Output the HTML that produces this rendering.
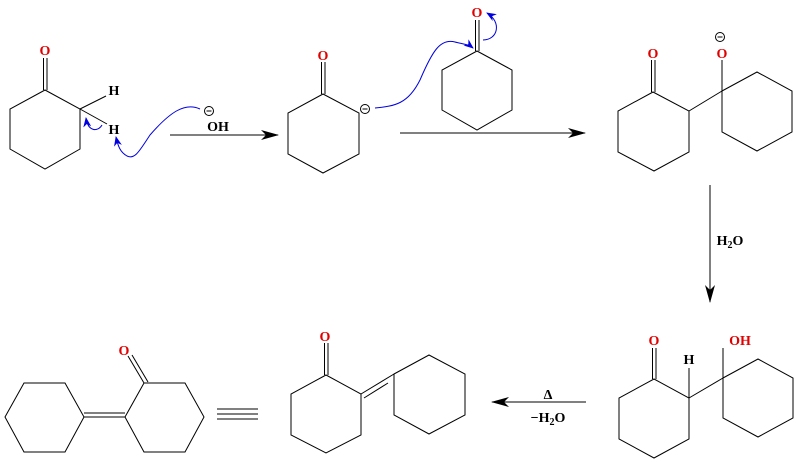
<!DOCTYPE html>
<html><head><meta charset="utf-8"><style>
html,body{margin:0;padding:0;background:#fff}
svg{display:block}
text{font-family:"Liberation Serif",serif;font-weight:bold;font-size:14px}
.o{fill:#e00000}
</style></head><body>
<svg width="796" height="462" viewBox="0 0 796 462" xmlns="http://www.w3.org/2000/svg">
<defs>
<marker id="ab" markerWidth="10" markerHeight="8" refX="9" refY="4" orient="auto" markerUnits="userSpaceOnUse"><path d="M0,0 L10,4 L0,8 L3,4 Z" fill="#0000e0"/></marker>
<marker id="ak" markerWidth="18" markerHeight="10" refX="17" refY="5" orient="auto" markerUnits="userSpaceOnUse"><path d="M0,0 L18,5 L0,10 L5,5 Z" fill="#000"/></marker>
</defs>
<g stroke="#000" stroke-width="1" fill="none">
<!-- mol 1 -->
<polygon points="45,90 80,109 80,149 45,169 10,149 10,109"/>
<line x1="43.5" y1="90" x2="43.5" y2="58"/><line x1="47" y1="90" x2="47" y2="58"/>
<line x1="80" y1="109" x2="106" y2="96"/>
<line x1="80" y1="109" x2="107" y2="124"/>
<line x1="170" y1="135" x2="278" y2="135" marker-end="url(#ak)"/>
<!-- mol 2 -->
<polygon points="323,94 359,113 359,154 323,173 288,154 288,113"/>
<line x1="321.5" y1="94" x2="321.5" y2="62"/><line x1="325" y1="94" x2="325" y2="62"/>
<polygon points="477,51 512,70 512,110 477,130 442,110 442,70"/>
<line x1="475.5" y1="51" x2="475.5" y2="20"/><line x1="479" y1="51" x2="479" y2="20"/>
<line x1="400" y1="133" x2="585" y2="133" marker-end="url(#ak)"/>
<!-- mol 3 -->
<polygon points="653,92 689,111 689,152 654,171 618,152 618,111"/>
<line x1="651.5" y1="92" x2="651.5" y2="60"/><line x1="655" y1="92" x2="655" y2="60"/>
<polygon points="722,91 757,72 792,91 792,132 757,151 722,132"/>
<line x1="689" y1="111" x2="722" y2="91"/>
<line x1="722" y1="91" x2="722" y2="60"/>
<line x1="710" y1="185" x2="710" y2="302" marker-end="url(#ak)"/>
<!-- mol 4 -->
<polygon points="654,379 689,398 689,439 654,458 619,439 619,398"/>
<line x1="652.5" y1="379" x2="652.5" y2="348"/><line x1="656" y1="379" x2="656" y2="348"/>
<line x1="689" y1="398" x2="689" y2="368"/>
<polygon points="723,378 758,359 793,378 793,418 758,437 723,418"/>
<line x1="689" y1="398" x2="723" y2="378"/>
<line x1="723" y1="378" x2="723" y2="348"/>
<line x1="586" y1="402" x2="492" y2="402" marker-end="url(#ak)"/>
<!-- mol 5 -->
<polygon points="326,375 361,394 361,435 326,453 291,435 291,394"/>
<line x1="324.5" y1="375" x2="324.5" y2="343"/><line x1="328" y1="375" x2="328" y2="343"/>
<polygon points="394,374 429,355 465,374 465,415 429,434 394,415"/>
<line x1="361" y1="394" x2="394" y2="374"/>
<line x1="364" y1="398" x2="388" y2="383"/>
<!-- mol 6 -->
<polygon points="5,417 24,383 65,383 84,417 65,452 24,452"/>
<polygon points="125,417 144,383 185,383 204,417 185,452 144,452"/>
<line x1="84" y1="417" x2="125" y2="417"/>
<line x1="84" y1="413" x2="125" y2="413"/>
<line x1="144" y1="383" x2="128" y2="356"/>
<line x1="148" y1="382" x2="132" y2="355"/>
<line x1="217" y1="409" x2="258" y2="409"/>
<line x1="217" y1="414" x2="258" y2="414"/>
<line x1="217" y1="419" x2="258" y2="419"/>
<!-- minus circles -->
<circle cx="209" cy="111" r="4.5"/><line x1="206.5" y1="111" x2="211.5" y2="111"/>
<circle cx="365" cy="109" r="4.5"/><line x1="362.5" y1="109" x2="367.5" y2="109"/>
<circle cx="720" cy="37" r="4.5"/><line x1="717.5" y1="37" x2="722.5" y2="37"/>
</g>
<!-- blue arrows -->
<g stroke="#0000e0" stroke-width="1" fill="none">
<path d="M200,109 C185,102 170,112 150,135 C140,150 135,160 127,156 C120,152 118,146 116,137" marker-end="url(#ab)"/>
<path d="M102,125 C98,132 88,132 86,118" marker-end="url(#ab)"/>
<path d="M375,108 C395,106 408,104 420,80 C432,52 440,38 455,42 C462,44 468,44 473,48" marker-end="url(#ab)"/>
<path d="M483,40 C498,40 502,22 487,13" marker-end="url(#ab)"/>
</g>
<!-- labels -->
<text class="o" x="45" y="55" text-anchor="middle">O</text>
<text x="114" y="95" text-anchor="middle">H</text>
<text x="114" y="134" text-anchor="middle">H</text>
<text x="218" y="131" text-anchor="middle">OH</text>
<text class="o" x="323" y="60" text-anchor="middle">O</text>
<text class="o" x="477" y="17" text-anchor="middle">O</text>
<text class="o" x="653" y="58" text-anchor="middle">O</text>
<text class="o" x="722" y="58" text-anchor="middle">O</text>
<text x="730" y="245" text-anchor="middle">H<tspan font-size="10" dy="3">2</tspan><tspan dy="-3">O</tspan></text>
<text class="o" x="654" y="345" text-anchor="middle">O</text>
<text x="689" y="364" text-anchor="middle">H</text>
<text class="o" x="740" y="345" text-anchor="middle">OH</text>
<text x="548" y="399" text-anchor="middle">Δ</text>
<text x="548" y="422" text-anchor="middle">−H<tspan font-size="10" dy="3">2</tspan><tspan dy="-3">O</tspan></text>
<text class="o" x="325" y="341" text-anchor="middle">O</text>
<text class="o" x="124" y="355" text-anchor="middle">O</text>
</svg>
</body></html>
